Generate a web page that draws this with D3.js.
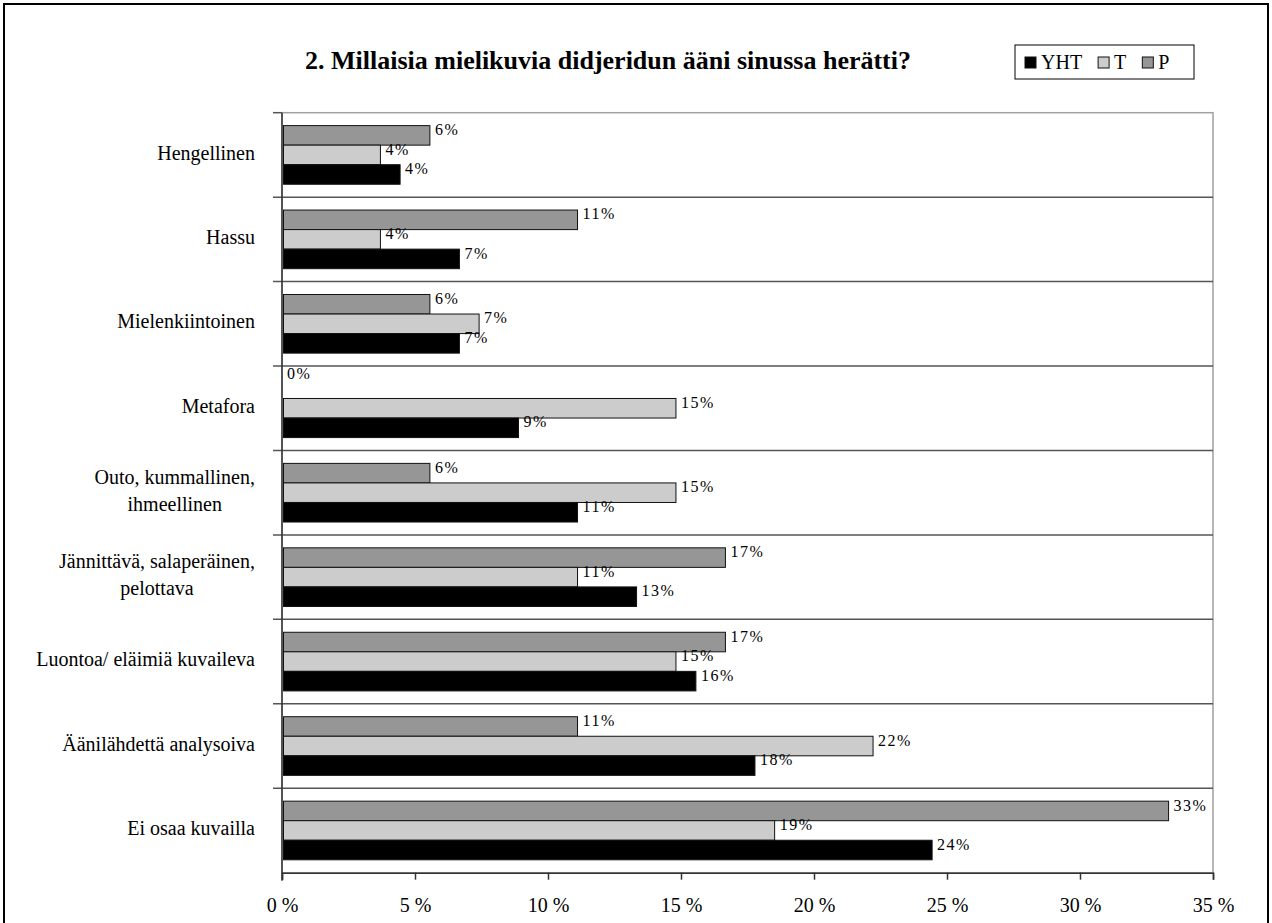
<!DOCTYPE html>
<html>
<head>
<meta charset="utf-8">
<script src="https://cdn.jsdelivr.net/npm/d3@7"></script>
<style>
  html, body { margin: 0; padding: 0; background: #fff; }
  svg text { font-family: "Liberation Serif", "DejaVu Serif", serif !important; }
</style>
</head>
<body>
<svg id="chart" width="1272" height="923" font-family="Liberation Serif, serif"></svg>
<script>
// ---- data ----
const categories = [
  ["Hengellinen"],
  ["Hassu"],
  ["Mielenkiintoinen"],
  ["Metafora"],
  ["Outo, kummallinen,", "ihmeellinen"],
  ["Jännittävä, salaperäinen,", "pelottava"],
  ["Luontoa/ eläimiä kuvaileva"],
  ["Äänilähdettä analysoiva"],
  ["Ei osaa kuvailla"]
];
const seriesNames = ["YHT", "T", "P"];
const valuesYHT = [4.44, 6.67, 6.67, 8.89, 11.11, 13.33, 15.56, 17.78, 24.44];
const valuesT   = [3.70, 3.70, 7.41, 14.81, 14.81, 11.11, 14.81, 22.22, 18.52];
const valuesP   = [5.56, 11.11, 5.56, 0, 5.56, 16.67, 16.67, 11.11, 33.33];
const xTicks = [0, 5, 10, 15, 20, 25, 30, 35];
const title = "2. Millaisia mielikuvia didjeridun ääni sinussa herätti?";

const colors = { YHT: "#000000", T: "#cccccc", P: "#969696" };
const FONT = "Liberation Serif, serif";

const svg = d3.select("#chart");

// outer border
svg.append("rect").attr("x", 4).attr("y", 4).attr("width", 1264).attr("height", 940)
  .attr("fill", "none").attr("stroke", "#000").attr("stroke-width", 2);

const plot = { left: 282, right: 1213, top: 112.7, bottom: 872.7 };

const x = d3.scaleLinear().domain([0, 35]).range([plot.left, plot.right]);
const catKeys = categories.map(c => c.join(" "));
const y0 = d3.scaleBand().domain(catKeys).range([plot.top, plot.bottom]).padding(0);
const y1 = d3.scaleBand().domain(["P", "T", "YHT"]).range([0, y0.bandwidth()])
  .paddingInner(0).paddingOuter(0.66);

// plot area frame (top & right gray)
svg.append("rect").attr("x", plot.left).attr("y", plot.top)
  .attr("width", plot.right - plot.left).attr("height", plot.bottom - plot.top)
  .attr("fill", "none").attr("stroke", "#a0a0a0").attr("stroke-width", 1.5);

// band separators (extend left as ticks)
catKeys.forEach((k, i) => {
  if (i === 0) return;
  svg.append("line")
    .attr("x1", plot.left - 9).attr("x2", plot.right)
    .attr("y1", y0(k)).attr("y2", y0(k))
    .attr("stroke", "#555").attr("stroke-width", 1.5);
});
svg.append("line").attr("x1", plot.left - 9).attr("x2", plot.left)
  .attr("y1", plot.top).attr("y2", plot.top).attr("stroke", "#555").attr("stroke-width", 1.5);

// bars
const rows = catKeys.map((k, i) => ({
  key: k, lines: categories[i],
  vals: { YHT: valuesYHT[i], T: valuesT[i], P: valuesP[i] }
}));

const g = svg.append("g");
rows.forEach(r => {
  ["P", "T", "YHT"].forEach(s => {
    const v = r.vals[s];
    const yy = y0(r.key) + y1(s);
    if (v > 0) {
      g.append("rect")
        .attr("x", x(0) + 1.5).attr("y", yy)
        .attr("width", x(v) - x(0) - 1.5).attr("height", y1.bandwidth())
        .attr("fill", colors[s]).attr("stroke", "#111").attr("stroke-width", 1);
    }
    g.append("text")
      .attr("x", x(v) + 5)
      .attr("y", yy + y1.bandwidth() / 2 - (v === 0 ? 13 : 4))
      .attr("dominant-baseline", "middle")
      .attr("font-family", FONT)
      .attr("font-size", 16).attr("letter-spacing", 1.5)
      .attr("fill", "#000")
      .text(Math.round(v) + "%");
  });
});

// y axis line
svg.append("line").attr("x1", plot.left).attr("x2", plot.left)
  .attr("y1", plot.top).attr("y2", plot.bottom + 8)
  .attr("stroke", "#333").attr("stroke-width", 1.5);

// x axis
const xAxis = d3.axisBottom(x).tickValues(xTicks).tickSize(7).tickFormat(d => d + " %");
const xg = svg.append("g").attr("transform", `translate(0,${plot.bottom})`).call(xAxis)
  .attr("font-family", FONT);
xg.select(".domain").attr("stroke", "#333").attr("stroke-width", 1.5);
xg.selectAll(".tick line").attr("stroke", "#333").attr("stroke-width", 1.5);
xg.selectAll(".tick text").attr("font-size", 20).attr("fill", "#000")
  .attr("font-family", FONT).attr("dy", 0).attr("y", 39);

// category labels
const labelRight = 255;
rows.forEach(r => {
  const cy = y0(r.key) + y0.bandwidth() / 2;
  const t = svg.append("text").attr("font-family", FONT).attr("font-size", 20)
    .attr("text-anchor", "middle").attr("fill", "#000");
  const lh = 27;
  const n = r.lines.length;
  r.lines.forEach((ln, j) => {
    t.append("tspan").attr("x", 0)
      .attr("y", cy + (j - (n - 1) / 2) * lh)
      .attr("dominant-baseline", "middle").text(ln);
  });
  const w = d3.max(t.selectAll("tspan").nodes(), nd => nd.getComputedTextLength());
  t.selectAll("tspan").attr("x", labelRight - w / 2);
});

// title
svg.append("text").attr("x", 608).attr("y", 69).attr("text-anchor", "middle")
  .attr("font-family", FONT)
  .attr("font-size", 26).attr("font-weight", "bold").text(title);

// legend
const lg = svg.append("g");
lg.append("rect").attr("x", 1015).attr("y", 45).attr("width", 179).attr("height", 34)
  .attr("fill", "#fff").attr("stroke", "#000").attr("stroke-width", 1);
let lx = 1025;
seriesNames.forEach(s => {
  lg.append("rect").attr("x", lx).attr("y", 57).attr("width", 11).attr("height", 11)
    .attr("fill", colors[s]).attr("stroke", "#111").attr("stroke-width", 1);
  const tt = lg.append("text").attr("x", lx + 16).attr("y", 69)
    .attr("font-family", FONT).attr("font-size", 20).text(s);
  lx += 16 + tt.node().getComputedTextLength() + 16;
});
</script>
</body>
</html>
